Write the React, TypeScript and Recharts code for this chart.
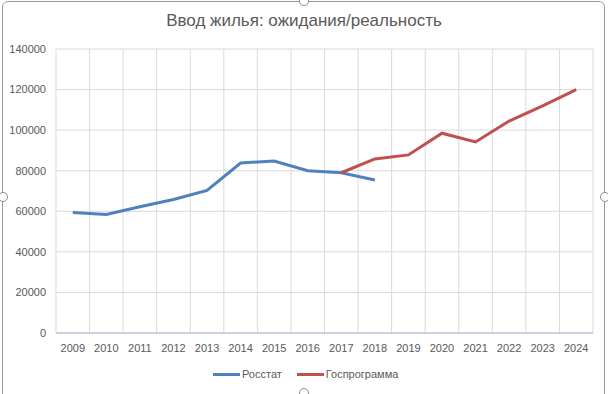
import React from 'react';
import { LineChart, Line, XAxis, YAxis, CartesianGrid } from 'recharts';

const years = [2009, 2010, 2011, 2012, 2013, 2014, 2015, 2016, 2017, 2018, 2019, 2020, 2021, 2022, 2023, 2024];
// Росстат, 2009–2018
const rosstat = [59400, 58400, 62200, 65800, 70300, 83800, 84800, 80000, 79000, 75400];
// Госпрограмма, 2017–2024
const gosprogramma = [79000, 85800, 87800, 98500, 94200, 104500, 112000, 120000];
const yTicks = [0, 20000, 40000, 60000, 80000, 100000, 120000, 140000];

const rosstatStart = 2009;
const gosStart = 2017;

const data = years.map((year) => ({
  year,
  rosstat: rosstat[year - rosstatStart] ?? null,
  gos: year >= gosStart ? gosprogramma[year - gosStart] ?? null : null,
}));

// vertical gridlines sit between categories, like Excel
const boundaries = [...years.map((y) => y - 0.5), years[years.length - 1] + 0.5];

const BLUE = '#4F81BD';
const RED = '#C0504D';
const TEXT = '#595959';
const FONT = '"Liberation Sans", Arial, sans-serif';

const Handle: React.FC<{ x: number; y: number }> = ({ x, y }) => (
  <div
    style={{
      position: 'absolute',
      left: x - 5,
      top: y - 5,
      width: 8,
      height: 8,
      borderRadius: '50%',
      border: '1px solid #8c8c8c',
      background: '#fff',
    }}
  />
);

const LegendItem: React.FC<{ color: string; label: string }> = ({ color, label }) => (
  <div style={{ display: 'flex', alignItems: 'center', marginRight: 15 }}>
    <div style={{ width: 27, height: 3, background: color, marginRight: 2 }} />
    <span>{label}</span>
  </div>
);

export default function App() {
  return (
    <div style={{ position: 'absolute', left: 0, top: 0, width: 608, height: 394, background: '#fff', fontFamily: FONT, overflow: 'hidden' }}>
      <div
        style={{
          position: 'absolute',
          left: 2,
          top: 1,
          width: 603,
          height: 400,
          border: '1px solid #9a9a9a',
          borderRadius: 6,
          boxSizing: 'border-box',
        }}
      />
      <div
        style={{
          position: 'absolute',
          left: 0,
          top: 11,
          width: 608,
          textAlign: 'center',
          fontSize: 17,
          color: TEXT,
        }}
      >
        Ввод жилья: ожидания/реальность
      </div>
      <div style={{ position: 'absolute', left: 0, top: 0 }}>
        <LineChart
          width={608}
          height={394}
          data={data}
          margin={{ top: 49, right: 15, bottom: 31, left: 0 }}
        >
          <CartesianGrid
            stroke="#d9d9d9"
            strokeWidth={1}
            verticalCoordinatesGenerator={({ offset }: any) =>
              boundaries.map((_, i) => offset.left + (i * offset.width) / (boundaries.length - 1))
            }
          />
          <XAxis
            dataKey="year"
            type="number"
            domain={[years[0] - 0.5, years[years.length - 1] + 0.5]}
            ticks={years}
            interval={0}
            height={30}
            tickLine={false}
            axisLine={{ stroke: '#a9b7cf' }}
            tick={{ fill: TEXT, fontSize: 11, fontFamily: FONT }}
            tickMargin={5}
          />
          <YAxis
            width={56}
            domain={[0, 140000]}
            ticks={yTicks}
            interval={0}
            axisLine={false}
            tickLine={false}
            tick={{ fill: TEXT, fontSize: 11, fontFamily: FONT }}
            tickMargin={4}
          />
          <Line
            dataKey="rosstat"
            stroke={BLUE}
            strokeWidth={3}
            dot={false}
            type="linear"
            isAnimationActive={false}
            connectNulls={false}
          />
          <Line
            dataKey="gos"
            stroke={RED}
            strokeWidth={3}
            dot={false}
            type="linear"
            isAnimationActive={false}
            connectNulls={false}
          />
        </LineChart>
      </div>
      <div
        style={{
          position: 'absolute',
          left: 213,
          top: 368,
          display: 'flex',
          fontSize: 11,
          color: TEXT,
        }}
      >
        <LegendItem color={BLUE} label="Росстат" />
        <LegendItem color={RED} label="Госпрограмма" />
      </div>
      <Handle x={3} y={197} />
      <Handle x={304} y={1} />
      <Handle x={605} y={197} />
      <Handle x={304} y={393} />
    </div>
  );
}
